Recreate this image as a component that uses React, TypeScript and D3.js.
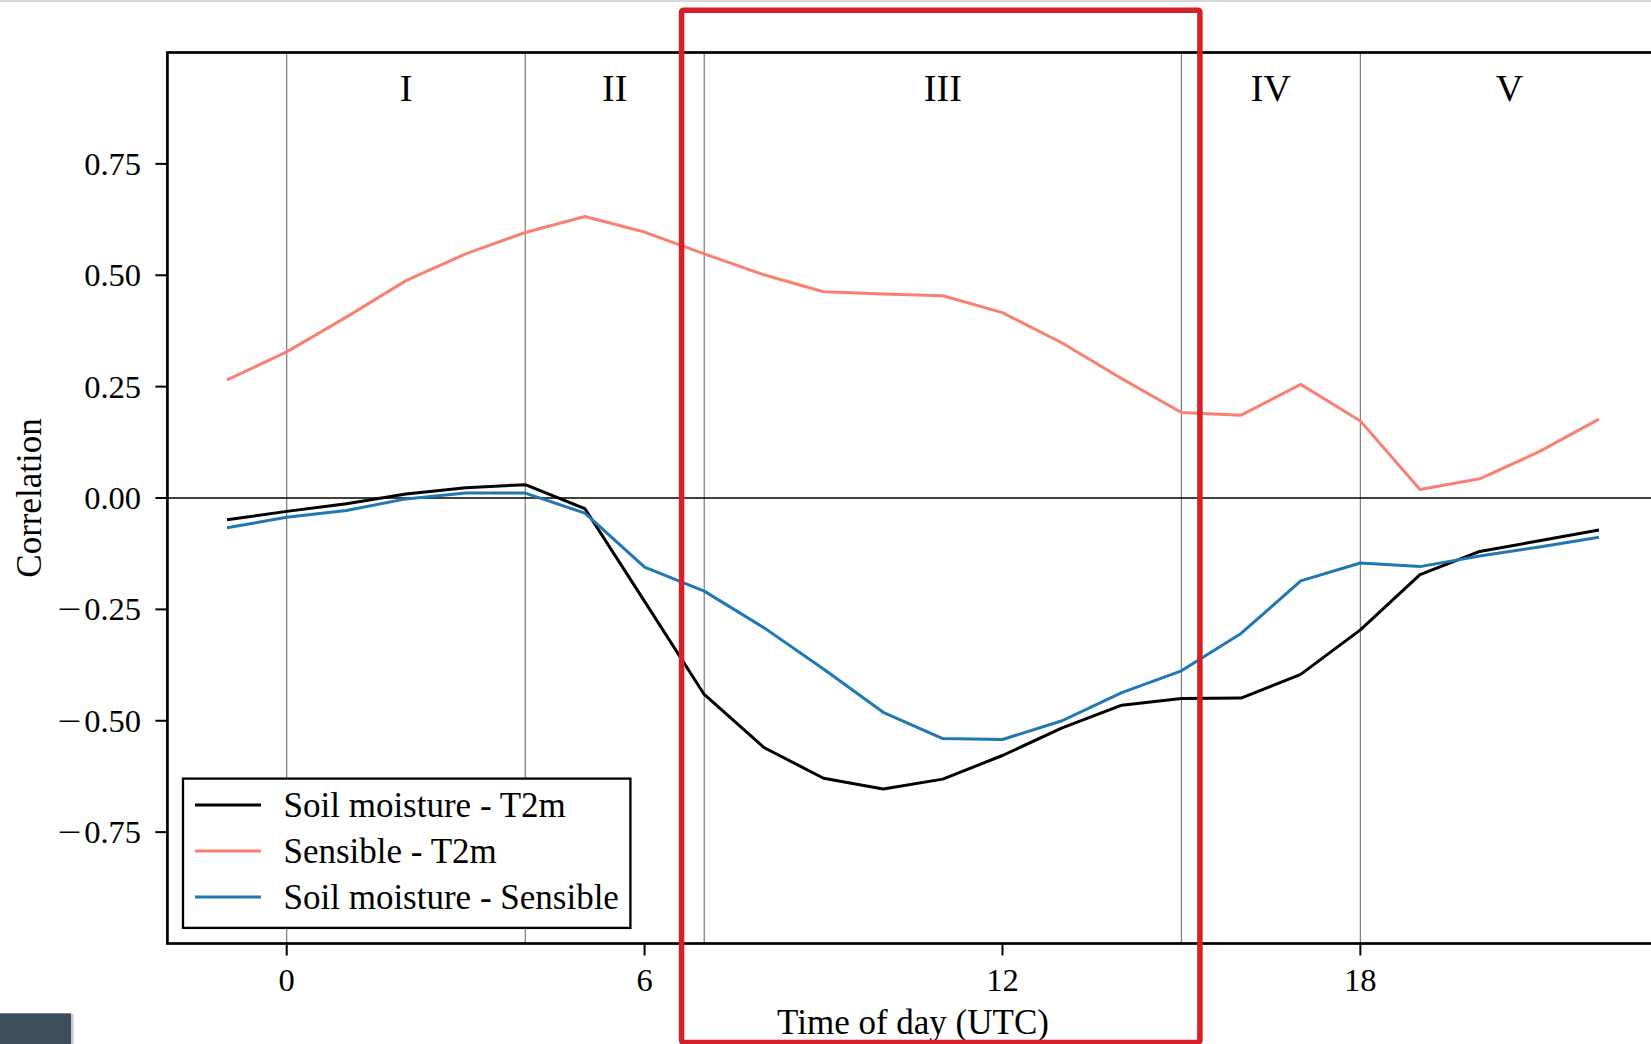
import React from "react";
import * as d3 from "d3";

const hours = [-1, 0, 1, 2, 3, 4, 5, 6, 7, 8, 9, 10, 11, 12, 13, 14, 15, 16, 17, 18, 19, 20, 21, 22];
const soilT2m = [-0.049, -0.030, -0.013, 0.009, 0.023, 0.030, -0.024, -0.232, -0.441, -0.560, -0.629, -0.653, -0.631, -0.578, -0.516, -0.465, -0.450, -0.449, -0.396, -0.296, -0.172, -0.120, -0.096, -0.072];
const sensibleT2m = [0.265, 0.328, 0.406, 0.488, 0.548, 0.596, 0.632, 0.597, 0.548, 0.501, 0.463, 0.458, 0.454, 0.416, 0.348, 0.268, 0.192, 0.186, 0.255, 0.173, 0.019, 0.043, 0.104, 0.177];
const soilSensible = [-0.067, -0.043, -0.028, -0.002, 0.011, 0.011, -0.034, -0.155, -0.209, -0.291, -0.384, -0.481, -0.540, -0.542, -0.500, -0.437, -0.388, -0.304, -0.186, -0.146, -0.154, -0.130, -0.110, -0.088];

const seriesNames = ["Soil moisture - T2m", "Sensible - T2m", "Soil moisture - Sensible"];
const seriesColors = ["#000000", "#fa8072", "#1f77b4"];

const phaseBounds = [0, 4, 7, 15, 18];
const phaseLabels = ["I", "II", "III", "IV", "V"];
const phaseCenters = [2, 5.5, 11, 16.5, 20.5];

const xTicks = [0, 6, 12, 18];
const yTicks = [-0.75, -0.5, -0.25, 0, 0.25, 0.5, 0.75];

const highlight = { x0: 6.62, x1: 15.31, y0: 1.095, y1: -1.222 };

const W = 1651;
const H = 1044;
const FONT = "'Liberation Serif', 'Times New Roman', serif";

export default function App() {
  const x = d3.scaleLinear().domain([-2, 23]).range([167.4, 1658.6]);
  const y = d3.scaleLinear().domain([-1, 1]).range([943.5, 52.5]);
  const allSeries = [soilT2m, sensibleT2m, soilSensible];
  const line = d3
    .line<number>()
    .x((_, i) => x(hours[i]))
    .y((d) => y(d));

  const left = x(-2);
  const right = x(23);
  const top = y(1);
  const bottom = y(-1);

  const legX = 183;
  const legY = 778.6;
  const legW = 447.4;
  const legH = 149.3;

  return (
    <svg
      width={W}
      height={H}
      style={{ position: "absolute", left: 0, top: 0, display: "block", background: "#fff" }}
      fontFamily={FONT}
    >
      <rect x={0} y={0} width={W} height={H} fill="#ffffff" />
      <rect x={0} y={0} width={W} height={2} fill="#d3d8dc" />

      {/* phase boundaries */}
      {phaseBounds.map((b) => (
        <line key={"pb" + b} x1={x(b)} x2={x(b)} y1={top} y2={bottom} stroke="#7a7a7a" strokeWidth={1.2} />
      ))}
      {/* zero line */}
      <line x1={left} x2={right} y1={y(0)} y2={y(0)} stroke="#000" strokeWidth={1.6} />

      {/* series */}
      {allSeries.map((s, k) => (
        <path key={"s" + k} d={line(s) || ""} fill="none" stroke={seriesColors[k]} strokeWidth={3} strokeLinejoin="round" />
      ))}

      {/* phase labels */}
      {phaseLabels.map((t, i) => (
        <text key={"pl" + t} x={x(phaseCenters[i])} y={101} textAnchor="middle" fontSize={38} fill="#000">
          {t}
        </text>
      ))}

      {/* spines */}
      <rect x={left} y={top} width={right - left} height={bottom - top} fill="none" stroke="#000" strokeWidth={2.7} />

      {/* y ticks */}
      {yTicks.map((v) => (
        <g key={"yt" + v}>
          <line x1={left - 12} x2={left} y1={y(v)} y2={y(v)} stroke="#000" strokeWidth={2} />
          <text x={141} y={y(v) + 11} textAnchor="end" fontSize={32.5} fill="#000">
            {Math.abs(v).toFixed(2)}
          </text>
          {v < 0 ? (
            <text
              transform={`translate(81, ${y(v) + 11}) scale(1.3, 1)`}
              textAnchor="end"
              fontSize={32.5}
              fill="#000"
            >
              {"\u2212"}
            </text>
          ) : null}
        </g>
      ))}

      {/* x ticks */}
      {xTicks.map((v) => (
        <g key={"xt" + v}>
          <line x1={x(v)} x2={x(v)} y1={bottom} y2={bottom + 12} stroke="#000" strokeWidth={2} />
          <text x={x(v)} y={991} textAnchor="middle" fontSize={32.5} fill="#000">
            {v}
          </text>
        </g>
      ))}

      {/* axis labels */}
      <text x={(left + right) / 2} y={1034} textAnchor="middle" fontSize={35} fill="#000">
        Time of day (UTC)
      </text>
      <text transform={`translate(41, ${(top + bottom) / 2}) rotate(-90)`} textAnchor="middle" fontSize={35} fill="#000">
        Correlation
      </text>

      {/* legend */}
      <rect x={legX} y={legY} width={legW} height={legH} fill="#fff" stroke="#000" strokeWidth={2.3} />
      {seriesNames.map((n, i) => (
        <g key={"lg" + i}>
          <line x1={195} x2={261} y1={805 + i * 46} y2={805 + i * 46} stroke={seriesColors[i]} strokeWidth={3} />
          <text x={283.5} y={816.5 + i * 46} fontSize={35} fill="#000">
            {n}
          </text>
        </g>
      ))}

      {/* highlight box */}
      <rect
        x={x(highlight.x0)}
        y={y(highlight.y0)}
        width={x(highlight.x1) - x(highlight.x0)}
        height={y(highlight.y1) - y(highlight.y0)}
        fill="none"
        stroke="#d71f27"
        strokeWidth={5.5}
        rx={2}
      />

      {/* corner block */}
      <rect x={71} y={1014} width={2.5} height={30} fill="#c9c9c9" />
      <rect x={0} y={1013.3} width={71} height={31} fill="#3d4f5a" />
    </svg>
  );
}
